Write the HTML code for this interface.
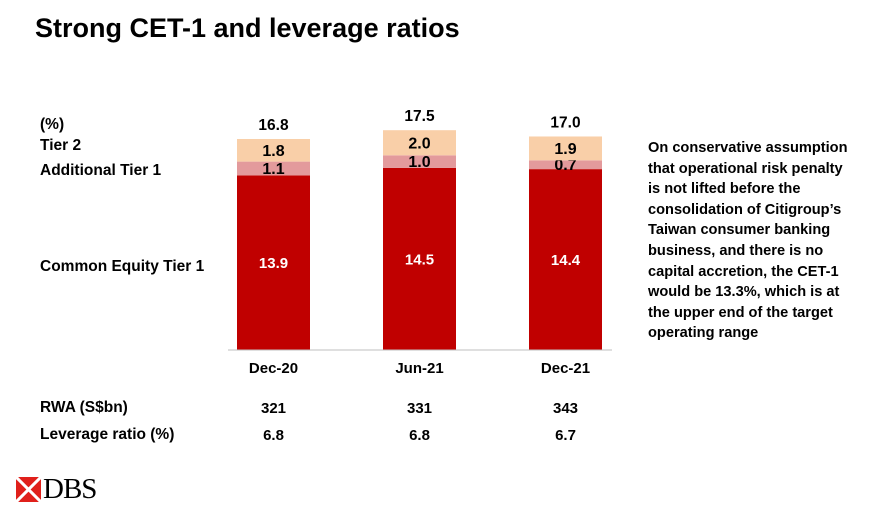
<!DOCTYPE html>
<html><head><meta charset="utf-8"><style>
body{margin:0;width:873px;height:513px;background:#fff;font-family:"Liberation Sans",Arial,sans-serif;overflow:hidden;position:relative}
.t{position:absolute;font-weight:bold;color:#000;font-size:15.5px;white-space:nowrap}
</style></head><body>
<div class="t" style="left:35px;top:13px;font-size:27px">Strong CET-1 and leverage ratios</div>
<div class="t" style="left:40px;top:116px">(%)</div>
<div class="t" style="left:40px;top:137px">Tier 2</div>
<div class="t" style="left:40px;top:162px">Additional Tier 1</div>
<div class="t" style="left:40px;top:258px">Common Equity Tier 1</div>
<div class="t" style="left:40px;top:399px">RWA (S$bn)</div>
<div class="t" style="left:40px;top:426px">Leverage ratio (%)</div>
<div class="t" style="left:648px;top:138px;line-height:20.6px;font-size:14.6px">On conservative assumption<br>that operational risk penalty<br>is not lifted before the<br>consolidation of Citigroup’s<br>Taiwan consumer banking<br>business, and there is no<br>capital accretion, the CET-1<br>would be 13.3%, which is at<br>the upper end of the target<br>operating range</div>
<svg id="chart" width="873" height="513" style="position:absolute;left:0;top:0"></svg>
<div style="position:absolute;left:16px;top:473px;display:flex;align-items:center">
<svg width="25" height="25"><rect x="0" y="0" width="25" height="25" fill="#e0201b"/><path d="M0 0L25 25M25 0L0 25" stroke="#fff" stroke-width="3"/></svg>
<span style="font-family:'Liberation Serif',serif;font-size:29px;margin-left:2px;letter-spacing:-1px">DBS</span></div>
<script>
const categories=["Dec-20","Jun-21","Dec-21"];
const cet1=[13.9,14.5,14.4];
const at1=[1.1,1.0,0.7];
const tier2=[1.8,2.0,1.9];
const totals=["16.8","17.5","17.0"];
const rwa=["321","331","343"];
const leverage=["6.8","6.8","6.7"];
const svg=document.getElementById('chart');const NS='http://www.w3.org/2000/svg';
const base=350,scale=12.56,x0=237,step=146,bw=73;
const y=v=>base-v*scale;const xc=i=>x0+i*step+bw/2;
function mk(t,a){const e=document.createElementNS(NS,t);for(const k in a)e.setAttribute(k,a[k]);svg.appendChild(e);return e;}
function txt(s,x,yy,fill,name,fs){const e=mk('text',{x:x,y:yy,'text-anchor':'middle','font-size':fs||'15','font-weight':'bold',fill:fill,'font-family':'Liberation Sans, Arial, sans-serif'});e.textContent=s;

return e;}
const segs=[[cet1,'#c00000','cet1'],[at1,'#e39a9c','at1'],[tier2,'#f9cfa8','tier2']];
categories.forEach((c,i)=>{let acc=0;
segs.forEach(([arr,col,nm])=>{const v=arr[i];const r=mk('rect',{x:x0+i*step,y:y(acc+v),width:bw,height:v*scale,fill:col});


const mid=y(acc+v/2)+5.5;txt(v.toFixed(1),xc(i),mid,nm=='cet1'?'#fff':'#000','value-'+nm+'-'+c,nm=='cet1'?'15':'16');acc+=v;});
txt(totals[i],xc(i),y(acc)-9,'#000','total-'+c,'15.5');
txt(c,xc(i),373,'#000','x-label-'+c);
txt(rwa[i],xc(i),413,'#000','rwa-'+c);
txt(leverage[i],xc(i),440,'#000','leverage-'+c);
});
const l=mk('line',{x1:228,x2:612,y1:base,y2:base,stroke:'#bfbfbf','stroke-width':1});


</script>
</body></html>
